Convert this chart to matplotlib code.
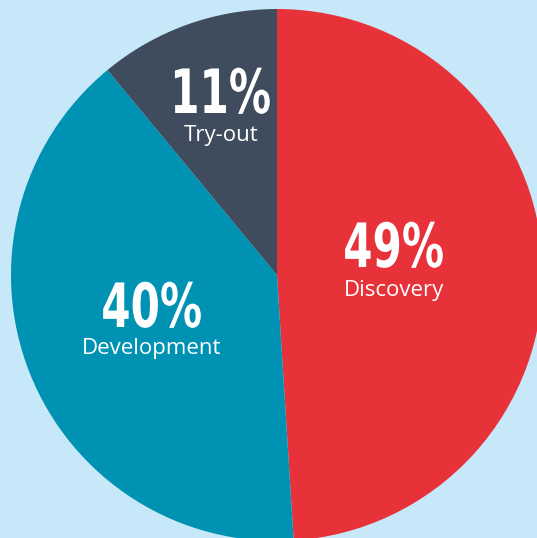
import matplotlib
matplotlib.use("Agg")
import matplotlib.pyplot as plt
from matplotlib import patheffects
from matplotlib.transforms import Affine2D

# Slice data (clockwise from 12 o'clock)
labels = ["Discovery", "Development", "Try-out"]
shares = [49, 40, 11]
colors = ["#E8323A", "#0092B3", "#3E4C5E"]


class Squeeze(patheffects.AbstractPathEffect):
    """Narrow the glyphs horizontally around their own middle (condensed look)."""

    def __init__(self, sx=0.75):
        super().__init__()
        self.sx = sx

    def draw_path(self, renderer, gc, tpath, affine, rgbFace=None):
        xs = tpath.vertices[:, 0]
        xm = (xs.min() + xs.max()) / 2
        squeeze = Affine2D().translate(-xm, 0).scale(self.sx, 1).translate(xm, 0)
        renderer.draw_path(gc, tpath, squeeze + affine, rgbFace)


W, H = 537, 538
fig = plt.figure(figsize=(W / 100, H / 100), dpi=100)
fig.patch.set_facecolor("#C6E8F9")
ax = fig.add_axes([0, 0, 1, 1])

cx, cy, r = 277, H - 275, 266
ax.pie(shares, colors=colors, startangle=90, counterclock=False,
       center=(cx, cy), radius=r, frame=True,
       wedgeprops=dict(linewidth=0, antialiased=True))
ax.set_xlim(0, W)
ax.set_ylim(0, H)
ax.set_aspect("equal")
ax.axis("off")

# label anchors (x centre, percent baseline, label baseline) in pixel rows from top
anchors = {
    "Discovery": (394, 267, 296),
    "Development": (152, 327, 354),
    "Try-out": (221, 113, 141),
}
for lab, val in zip(labels, shares):
    x, yb, yl = anchors[lab]
    ax.text(x, H - yb, f"{val}%", ha="center", va="baseline", color="white",
            fontsize=44, fontweight="bold", family="DejaVu Sans",
            path_effects=[Squeeze(0.69)])
    ax.text(x, H - yl, lab, ha="center", va="baseline", color="white",
            fontsize=16, family="Open Sans")

fig.savefig("out.png", dpi=100, facecolor=fig.get_facecolor())
